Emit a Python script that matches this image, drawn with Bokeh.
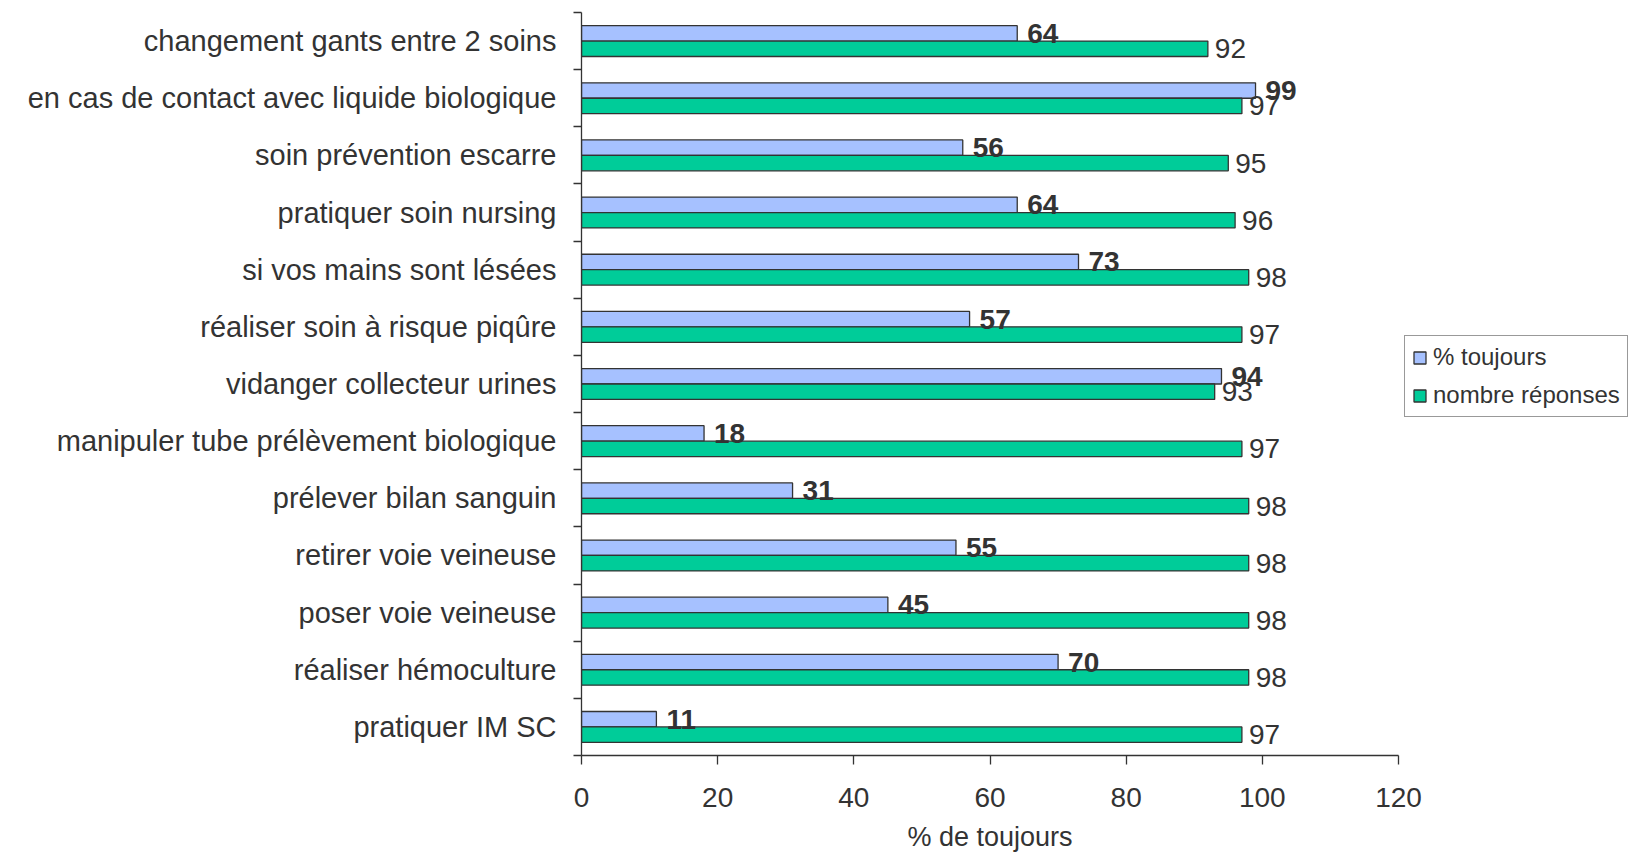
from bokeh.plotting import figure
from bokeh.models import (ColumnDataSource, Range1d, FixedTicker,
                          LinearAxis, Legend, LegendItem, Title)
from bokeh.core.properties import value
from bokeh.embed import file_html
from bokeh.resources import INLINE

categories = [
    "changement gants entre 2 soins",
    "en cas de contact avec liquide biologique",
    "soin prévention escarre",
    "pratiquer soin nursing",
    "si vos mains sont lésées",
    "réaliser soin à risque piqûre",
    "vidanger collecteur urines",
    "manipuler tube prélèvement biologique",
    "prélever bilan sanguin",
    "retirer voie veineuse",
    "poser voie veineuse",
    "réaliser hémoculture",
    "pratiquer IM SC",
]
pct_toujours = [64, 99, 56, 64, 73, 57, 94, 18, 31, 55, 45, 70, 11]
nombre_reponses = [92, 97, 95, 96, 98, 97, 93, 97, 98, 98, 98, 98, 97]
series_names = ["% toujours", "nombre réponses"]
x_ticks = [0, 20, 40, 60, 80, 100, 120]
x_title = "% de toujours"

FONT = "Liberation Sans"
TXT = "#333333"
BLUE = "#A6C1FF"
GREEN = "#00CC99"
EDGE = "#333333"

W, H = 1628, 862
LEFT, TOP = 581, 12
FRAME_BOTTOM = 755
BOTTOM = H - FRAME_BOTTOM
AX_END_PX = 1398  # canvas x of the value 120
TITLE_FONT_PX = 27

n = len(categories)
centers = [n - 0.5 - i for i in range(n)]
boundaries = [float(i) for i in range(n + 1)]
off = 0.135
bh = 0.27

xmax_axis = x_ticks[-1]
px_per_unit = (AX_END_PX - LEFT) / xmax_axis
x_end = (W - LEFT) / px_per_unit

src_a = ColumnDataSource(dict(y=[c + off for c in centers], x=pct_toujours,
                              lab=[str(v) for v in pct_toujours]))
src_b = ColumnDataSource(dict(y=[c - off for c in centers], x=nombre_reponses,
                              lab=[str(v) for v in nombre_reponses]))

p = figure(width=W, height=H, output_backend="svg", toolbar_location=None,
           x_range=Range1d(0, x_end), y_range=Range1d(0, n),
           x_axis_location=None, y_axis_location=None)
p.min_border_left = LEFT
p.min_border_right = 0
p.min_border_top = TOP
p.min_border_bottom = BOTTOM
p.outline_line_color = None
p.xgrid.grid_line_color = None
p.ygrid.grid_line_color = None
p.background_fill_color = "white"
p.border_fill_color = "white"

ra = p.hbar(y="y", right="x", left=0, height=bh, source=src_a,
            fill_color=BLUE, line_color=EDGE, line_width=1.3)
rb = p.hbar(y="y", right="x", left=0, height=bh, source=src_b,
            fill_color=GREEN, line_color=EDGE, line_width=1.3)

p.text(x="x", y="y", text="lab", source=src_a, x_offset=10,
       text_font=value(FONT), text_font_size="28px", text_font_style="bold",
       text_color=TXT, text_baseline="middle", text_align="left")
p.text(x="x", y="y", text="lab", source=src_b, x_offset=7,
       text_font=value(FONT), text_font_size="28px",
       text_color=TXT, text_baseline="middle", text_align="left")

# y axis (categories), ticks at category boundaries
yax = LinearAxis(ticker=FixedTicker(ticks=centers, minor_ticks=boundaries))
yax.major_label_overrides = {c: cat for c, cat in zip(centers, categories)}
yax.major_tick_line_color = None
yax.major_tick_out = 0
yax.major_tick_in = 0
yax.minor_tick_out = 8
yax.minor_tick_in = 0
yax.minor_tick_line_color = EDGE
yax.minor_tick_line_width = 1.3
yax.axis_line_color = EDGE
yax.axis_line_width = 1.3
yax.major_label_standoff = 17
yax.major_label_text_font = FONT
yax.major_label_text_font_size = "29px"
yax.major_label_text_color = TXT
p.add_layout(yax, "left")

xax = LinearAxis(ticker=FixedTicker(ticks=x_ticks), bounds=(0, xmax_axis))
xax.major_tick_out = 9
xax.major_tick_in = 0
xax.major_tick_line_color = EDGE
xax.major_tick_line_width = 1.3
xax.minor_tick_line_color = None
xax.axis_line_color = EDGE
xax.axis_line_width = 1.3
xax.major_label_standoff = 23
xax.major_label_text_font = FONT
xax.major_label_text_font_size = "28px"
xax.major_label_text_color = TXT
p.add_layout(xax, "below")

# x-axis title centred under the drawn axis (0..120); approx text width in em
title_w = 6.114 * TITLE_FONT_PX
title = Title(text=x_title, align="left",
              offset=(AX_END_PX - LEFT) / 2 - title_w / 2,
              text_font=FONT, text_font_size=f"{TITLE_FONT_PX}px",
              text_font_style="normal", text_color=TXT, standoff=21)
p.add_layout(title, "below")

legend = Legend(items=[LegendItem(label=series_names[0], renderers=[ra]),
                       LegendItem(label=series_names[1], renderers=[rb])],
                location=(1404 - LEFT, FRAME_BOTTOM - 417), orientation="vertical")
legend.margin = 0
legend.padding = 7
legend.spacing = 10
legend.glyph_width = 15
legend.glyph_height = 15
legend.label_standoff = 6
legend.label_text_font = FONT
legend.label_text_font_size = "24px"
legend.label_text_color = TXT
legend.border_line_color = EDGE
legend.border_line_width = 1.5
legend.background_fill_color = "white"
legend.background_fill_alpha = 1
p.add_layout(legend, "center")

open("out.html", "w").write(file_html(p, INLINE))
